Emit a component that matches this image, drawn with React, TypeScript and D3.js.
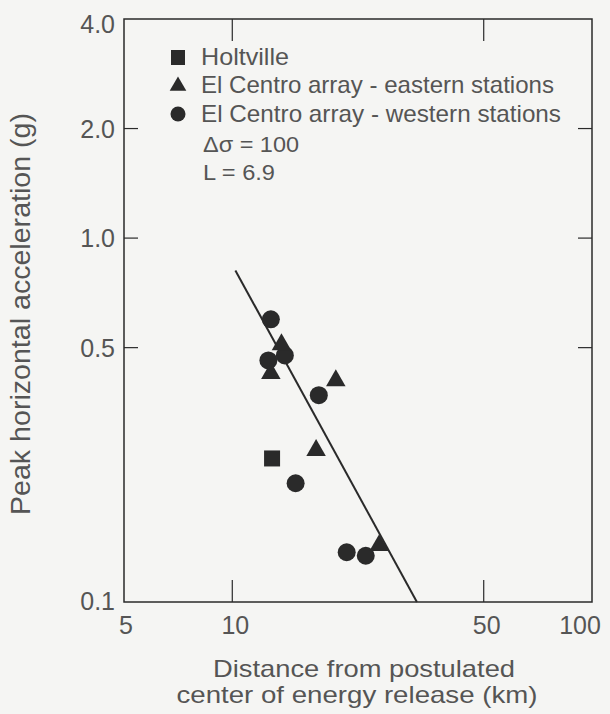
import React from "react";
import * as d3 from "d3";

const holtville: [number, number][] = [[12.9, 0.248]];
const eastern: [number, number][] = [
  [13.7, 0.51],
  [12.8, 0.425],
  [19.4, 0.406],
  [17.1, 0.261],
  [25.6, 0.143],
];
const western: [number, number][] = [
  [12.8, 0.598],
  [14.0, 0.476],
  [12.6, 0.461],
  [17.4, 0.37],
  [15.0, 0.212],
  [20.8, 0.137],
  [23.5, 0.134],
];
const fitLine: [number, number][] = [
  [10.2, 0.815],
  [32.6, 0.1],
];
const xTicks = [5, 10, 50, 100];
const yTicks = [0.1, 0.5, 1.0, 2.0, 4.0];
const legendItems = [
  "Holtville",
  "El Centro array - eastern stations",
  "El Centro array - western stations",
];
const noteLines = ["Δσ = 100", "L = 6.9"];

const W = 610;
const H = 714;
const left = 124;
const right = 592;
const top = 19;
const bottom = 602;
const ink = "#2a2a2a";
const textCol = "#555";
const font = "'Liberation Sans', Arial, sans-serif";

export default function App() {
  const x = d3.scaleLog().domain([5, 100]).range([left, right]);
  const y = d3.scaleLog().domain([0.1, 4]).range([bottom, top]);
  const line = d3
    .line<[number, number]>()
    .x((d) => x(d[0]))
    .y((d) => y(d[1]));
  const tri = d3.symbol().type(d3.symbolTriangle).size(165)()!;
  const inner = [10, 50];
  const innerY = [0.5, 1.0, 2.0];
  const legendLens = [88, 353, 360];
  const noteLens = [96, 72];
  const legendBase = [65, 93, 122];
  const noteBase = [152, 180];
  const yLabelDy = (t: number) => (t === 4 ? 14 : t === 0.1 ? 8 : 9);
  return (
    <svg
      width={W}
      height={H}
      style={{ position: "absolute", left: 0, top: 0, background: "#f5f5f3" }}
    >
      <rect x={0} y={0} width={W} height={H} fill="#f5f5f3" />
      <rect
        x={left}
        y={top}
        width={right - left}
        height={bottom - top}
        fill="none"
        stroke={ink}
        strokeWidth={1.5}
      />
      {inner.map((t) => (
        <g key={"xt" + t}>
          <line x1={x(t)} x2={x(t)} y1={bottom} y2={bottom - 22} stroke={ink} strokeWidth={1.2} />
          <line x1={x(t)} x2={x(t)} y1={top} y2={top + 22} stroke={ink} strokeWidth={1.2} />
        </g>
      ))}
      {innerY.map((t) => (
        <g key={"yt" + t}>
          <line x1={left} x2={left + 14} y1={y(t)} y2={y(t)} stroke={ink} strokeWidth={1.2} />
          <line x1={right} x2={right - 14} y1={y(t)} y2={y(t)} stroke={ink} strokeWidth={1.2} />
        </g>
      ))}
      {xTicks.map((t) => (
        <text
          key={"xl" + t}
          x={t === 100 ? x(t) - 12 : x(t) + (t === 5 ? 2 : 3)}
          y={634}
          textAnchor="middle"
          fontSize={25}
          fontFamily={font}
          fill={textCol}
        >
          {t}
        </text>
      ))}
      {yTicks.map((t) => (
        <text
          key={"yl" + t}
          x={115}
          y={y(t) + yLabelDy(t)}
          textAnchor="end"
          fontSize={25}
          fontFamily={font}
          fill={textCol}
        >
          {t.toFixed(1)}
        </text>
      ))}
      <text
        transform={`translate(30,314) rotate(-90)`}
        textAnchor="middle"
        fontSize={27}
        fontFamily={font}
        fill={textCol}
        textLength={402}
        lengthAdjust="spacingAndGlyphs"
      >
        Peak horizontal acceleration (g)
      </text>
      <text
        x={364}
        y={677}
        textAnchor="middle"
        fontSize={24}
        fontFamily={font}
        fill={textCol}
        textLength={302}
        lengthAdjust="spacingAndGlyphs"
      >
        Distance from postulated
      </text>
      <text
        x={357}
        y={703}
        textAnchor="middle"
        fontSize={24}
        fontFamily={font}
        fill={textCol}
        textLength={361}
        lengthAdjust="spacingAndGlyphs"
      >
        center of energy release (km)
      </text>
      <path d={line(fitLine)!} fill="none" stroke={ink} strokeWidth={2} />
      {holtville.map((d, i) => (
        <rect
          key={"h" + i}
          x={x(d[0]) - 8}
          y={y(d[1]) - 8}
          width={16}
          height={16}
          fill={ink}
        />
      ))}
      {western.map((d, i) => (
        <circle key={"w" + i} cx={x(d[0])} cy={y(d[1])} r={9} fill={ink} />
      ))}
      {eastern.map((d, i) => (
        <path key={"e" + i} d={tri} transform={`translate(${x(d[0])},${y(d[1])})`} fill={ink} />
      ))}
      <rect x={171} y={50} width={14} height={15} fill={ink} />
      <path d={d3.symbol().type(d3.symbolTriangle).size(120)()!} transform="translate(178,86)" fill={ink} />
      <circle cx={178} cy={114} r={7.5} fill={ink} />
      {legendItems.map((t, i) => (
        <text
          key={t}
          x={201}
          y={legendBase[i]}
          fontSize={24}
          fontFamily={font}
          fill={textCol}
          textLength={legendLens[i]}
          lengthAdjust="spacingAndGlyphs"
        >
          {t}
        </text>
      ))}
      {noteLines.map((t, i) => (
        <text
          key={t}
          x={203}
          y={noteBase[i]}
          fontSize={22}
          fontFamily={font}
          fill={textCol}
          textLength={noteLens[i]}
          lengthAdjust="spacingAndGlyphs"
        >
          {t}
        </text>
      ))}
    </svg>
  );
}
